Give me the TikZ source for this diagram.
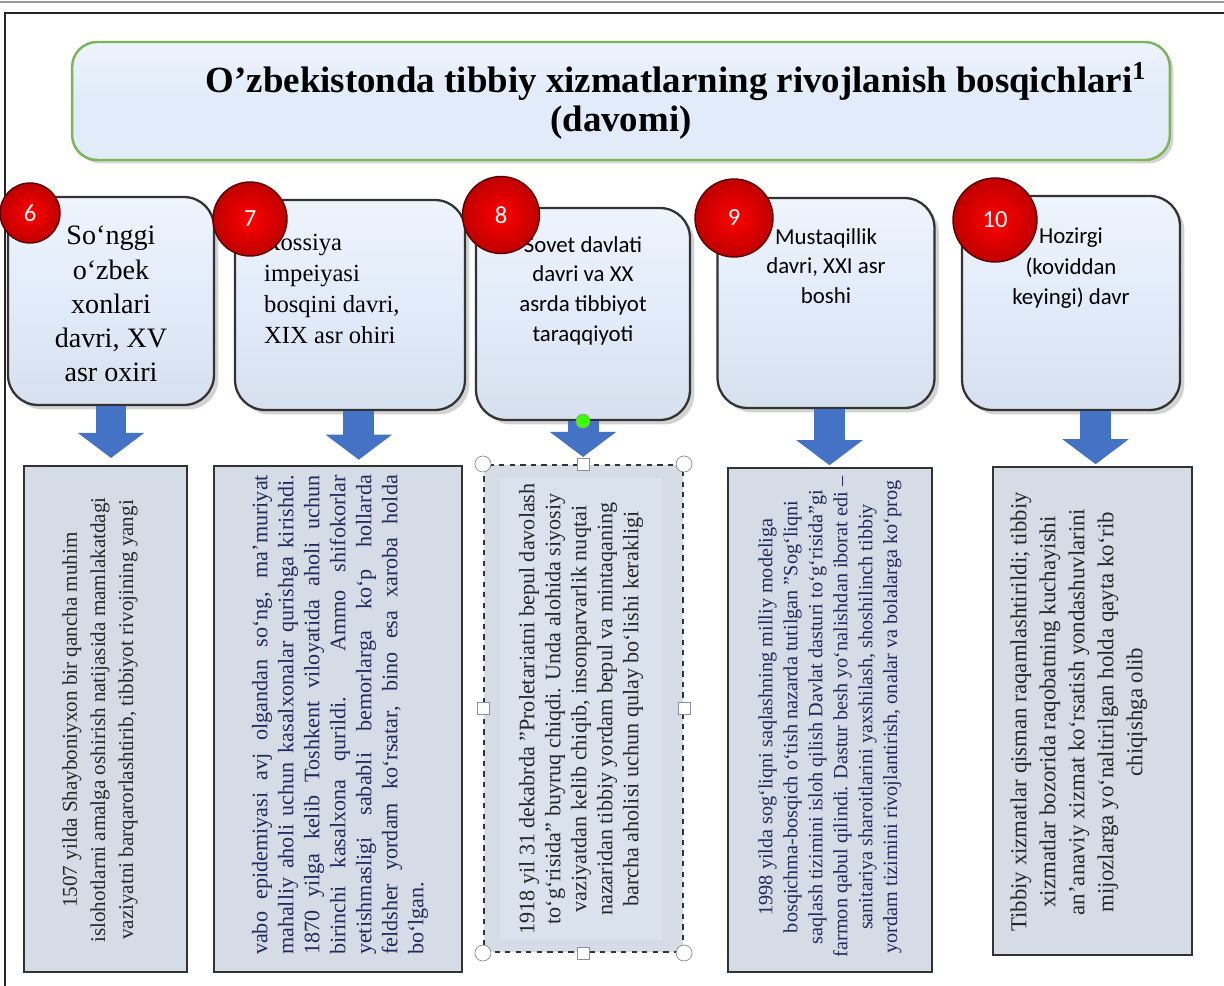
\documentclass[tikz,border=0pt]{standalone}
\usepackage{fontspec}
\setmainfont{Liberation Serif}
\newfontfamily\calibri{Carlito}
\usetikzlibrary{shapes,arrows.meta,positioning,calc,shadows}
\definecolor{boxblue}{HTML}{E1EBF9}
\definecolor{boxgrey}{HTML}{D6DCE5}
\definecolor{arrowblue}{HTML}{4472C4}
\definecolor{framegreen}{HTML}{7DB45A}
\definecolor{navytext}{HTML}{1F2A5C}

\tikzset{
  titlebox/.style={draw=framegreen, line width=1.4pt, rounded corners=0.5cm,
    top color=boxblue!60!white, bottom color=boxblue, middle color=boxblue,
    drop shadow={opacity=0.35, shadow xshift=2pt, shadow yshift=-2pt}},
  stagebox/.style={draw=black!80, line width=1.3pt, rounded corners=0.6cm,
    top color=boxblue!55!white, bottom color=boxblue!85!black!30!boxblue, middle color=boxblue,
    drop shadow={opacity=0.35, shadow xshift=2.5pt, shadow yshift=-2.5pt}},
  badge/.style={circle, draw=red!35!black, line width=0.8pt, shading=radial,
    inner color=red, outer color=red!75!black, text=white, font=\calibri\fontsize{14}{16}\selectfont},
  notebox/.style={draw=black!80, line width=1.2pt, fill=boxgrey},
  notetext/.style={rotate=90, inner sep=0pt},
  blockarrow/.style={arrowblue, line width=0.62cm, -{Triangle[width=1.3cm,length=0.5cm]}},
  handlecirc/.style={circle, draw=black!45, fill=white, minimum size=0.32cm, inner sep=0pt},
  handlesq/.style={rectangle, draw=blue!30!black!45, fill=white, minimum size=0.24cm, inner sep=0pt}
}

\begin{document}
\begin{tikzpicture}[x=0.02cm, y=-0.02cm]
    \useasboundingbox (0,0) rectangle (1224,986);
    % page frame
    \draw [black!40, line width=1pt] (0,2) -- (1224,2);
    \draw [black!85, line width=1.2pt] (5,986) -- (5,13) -- (1224,13);

    % title
    \node (title) [titlebox, minimum width=21.96cm, minimum height=2.36cm, align=center,
        font=\bfseries\fontsize{21}{22.5}\selectfont] at (621,101)
        {\hspace*{2.2cm}O’zbekistonda tibbiy xizmatlarning rivojlanish bosqichlari\textsuperscript{1}\\(davomi)};

    % stage boxes
    \node (t6) [stagebox, minimum width=4.12cm, minimum height=4.16cm] at (111,301) {};
    \node (t7) [stagebox, minimum width=4.6cm, minimum height=4.2cm] at (350,305) {};
    \node (t8) [stagebox, minimum width=4.28cm, minimum height=4.24cm] at (583,314) {};
    \node (t9) [stagebox, minimum width=4.34cm, minimum height=4.2cm] at (826,303) {};
    \node (t10) [stagebox, minimum width=4.36cm, minimum height=4.28cm] at (1071,303) {};

    \node (t6text) [below=0.6cm of t6.north, inner sep=0pt, align=center, font=\fontsize{16}{19.5}\selectfont]
        {So‘nggi\\o‘zbek\\xonlari\\davri, XV\\asr oxiri};
    \node (t7text) [below right=0.7cm and 0.6cm of t7.north west, inner sep=0pt, align=left, font=\fontsize{14}{17.6}\selectfont]
        {Rossiya\\impeiyasi\\bosqini davri,\\XIX asr ohiri};
    \node (t8text) [below=0.58cm of t8.north, inner sep=0pt, align=center, font=\calibri\fontsize{13}{17}\selectfont]
        {Sovet davlati\\davri va XX\\asrda tibbiyot\\taraqqiyoti};
    \node (t9text) [below=0.62cm of t9.north, inner sep=0pt, align=center, font=\calibri\fontsize{13}{16.8}\selectfont]
        {Mustaqillik\\davri, XXI asr\\boshi};
    \node (t10text) [below=0.66cm of t10.north, inner sep=0pt, align=center, font=\calibri\fontsize{13}{17.2}\selectfont]
        {Hozirgi\\(koviddan\\keyingi) davr};

    % number badges
    \node (n6) [badge, minimum size=1.2cm] at (30,213) {6};
    \node (n7) [badge, minimum size=1.48cm] at (250,219) {7};
    \node (n8) [badge, minimum size=1.54cm] at (501,215) {8};
    \node (n9) [badge, minimum size=1.56cm] at (734,218) {9};
    \node (n10) [badge, minimum size=1.68cm] at (995,220) {10};

    % note boxes
    \node (b6) [notebox, minimum width=3.26cm, minimum height=10.12cm] at (105.5,719) {};
    \node (b7) [notebox, minimum width=4.96cm, minimum height=10.12cm] at (338,719) {};
    \node (b8) [notebox, dashed, minimum width=3.98cm, minimum height=9.74cm] at (583.5,708.5) {};
    \node (b9) [notebox, minimum width=4.08cm, minimum height=10.08cm] at (830,720) {};
    \node (b10) [notebox, minimum width=3.98cm, minimum height=9.76cm] at (1092.5,711) {};

    \draw [blockarrow] (t6.south) -- ([yshift=4]t6.south |- b6.north);
    \draw [blockarrow] ([xshift=5]t7.south) -- ([xshift=5,yshift=3]t7.south |- b7.north);
    \draw [blockarrow] (t8.south) -- ([yshift=4]t8.south |- b8.north);
    \draw [blockarrow] ([xshift=2]t9.south) -- ([xshift=2,yshift=1]t9.south |- b9.north);
    \draw [blockarrow] ([xshift=14]t10.south) -- ([xshift=14,yshift=1]t10.south |- b10.north);

    \node (b6text) [notetext, align=center, text=black!85, font=\fontsize{12}{16}\selectfont] at (100,720)
        {1507 yilda Shayboniyxon bir qancha muhim\\islohotlarni amalga oshirish natijasida mamlakatdagi\\vaziyatni barqarorlashtirib, tibbiyot rivojining yangi};
    \node (b7text) [notetext, align=justify, text width=9.6cm, text=navytext, font=\fontsize{12.6}{14.8}\selectfont] at (340,715)
        {vabo epidemiyasi avj olgandan so‘ng, ma’muriyat\linebreak mahalliy aholi uchun kasalxonalar qurishga kirishdi.\linebreak 1870 yilga kelib Toshkent viloyatida aholi uchun\linebreak birinchi kasalxona qurildi. Ammo shifokorlar\linebreak yetishmasligi sababli bemorlarga ko‘p hollarda\linebreak feldsher yordam ko‘rsatar, bino esa xaroba holda\linebreak bo‘lgan.};
    \node (b8text) [notetext, align=center, fill=boxgrey!60!boxblue, minimum width=9.24cm, minimum height=3.26cm,
        text=black!85, font=\fontsize{12.6}{14.8}\selectfont] at (581,709)
        {1918 yil 31 dekabrda "Proletariatni bepul davolash\\to‘g‘risida" buyruq chiqdi. Unda alohida siyosiy\\vaziyatdan kelib chiqib, insonparvarlik nuqtai\\nazaridan tibbiy yordam bepul va mintaqaning\\barcha aholisi uchun qulay bo‘lishi kerakligi};
    \node (b9text) [notetext, align=center, text=navytext, font=\fontsize{11.5}{14.2}\selectfont] at (830,717)
        {1998 yilda sog‘liqni saqlashning milliy modeliga\\bosqichma-bosqich o‘tish nazarda tutilgan "Sog‘liqni\\saqlash tizimini isloh qilish Davlat dasturi to‘g‘risida"gi\\farmon qabul qilindi. Dastur besh yo‘nalishdan iborat edi –\\sanitariya sharoitlarini yaxshilash, shoshilinch tibbiy\\yordam tizimini rivojlantirish, onalar va bolalarga ko‘prog};
    \node (b10text) [notetext, align=center, text=black!85, font=\fontsize{13}{16.5}\selectfont] at (1079,712)
        {Tibbiy xizmatlar qisman raqamlashtirildi; tibbiy\\xizmatlar bozorida raqobatning kuchayishi\\an’anaviy xizmat ko‘rsatish yondashuvlarini\\mijozlarga yo‘naltirilgan holda qayta ko‘rib\\chiqishga olib};

    % selection handles on the 8th note
    \foreach \a/\n in {north west/hnw, north east/hne, south west/hsw, south east/hse}
        \node (\n) [handlecirc] at (b8.\a) {};
    \foreach \a/\n in {north/hn, south/hs, east/he, west/hw}
        \node (\n) [handlesq] at (b8.\a) {};
    \node (rot) [circle, draw=black!40, fill=green!70!lime, minimum size=0.28cm, inner sep=0pt] at (t8.south) {};

\end{tikzpicture}
\end{document}
